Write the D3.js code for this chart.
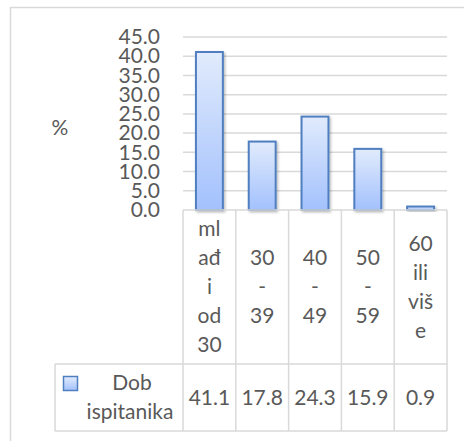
<!DOCTYPE html>
<html>
<head>
<meta charset="utf-8">
<script src="https://cdn.jsdelivr.net/npm/d3@7"></script>
<style>
  body { margin: 0; background: #fff; }
  text { font-family: Lato, "Open Sans", sans-serif; fill: #595959; }
</style>
</head>
<body>
<div id="chart"></div>
<script>
var categories = ["mlađi od 30", "30 - 39", "40 - 49", "50 - 59", "60 ili više"];
// wrapped lines as they appear in the data table header
var categoryLines = [["ml", "ađ", "i", "od", "30"], ["30", "-", "39"], ["40", "-", "49"], ["50", "-", "59"], ["60", "ili", "viš", "e"]];
var values = [41.1, 17.8, 24.3, 15.9, 0.9];
var seriesName = ["Dob", "ispitanika"];
var yTicks = [0, 5, 10, 15, 20, 25, 30, 35, 40, 45];

var W = 464, H = 441;
var margin = {top: 37, left: 183, right: 17, bottom: 231},
  width = W - margin.left - margin.right,
  height = H - margin.top - margin.bottom;

var svg = d3.select("#chart").append("svg")
  .attr("width", W).attr("height", H);

var defs = svg.append("defs");
var grad = defs.append("linearGradient").attr("id", "barGrad")
  .attr("x1", 0).attr("y1", 0).attr("x2", 0).attr("y2", 1);
grad.append("stop").attr("offset", "0%").attr("stop-color", "#e1ebfc");
grad.append("stop").attr("offset", "100%").attr("stop-color", "#a3c1fd");
var shadow = defs.append("filter").attr("id", "shadow")
  .attr("x", "-20%").attr("y", "-20%").attr("width", "150%").attr("height", "150%");
shadow.append("feDropShadow").attr("dx", 1.5).attr("dy", 1.5).attr("stdDeviation", 1.2)
  .attr("flood-color", "#000").attr("flood-opacity", 0.25);

// outer chart border
svg.append("path")
  .attr("d", "M10.5," + (H + 1) + "V7.5H" + (W + 1))
  .attr("fill", "none").attr("stroke", "#d9d9d9").attr("stroke-width", 1.5);

var g = svg.append("g").attr("transform", "translate(" + margin.left + "," + margin.top + ")");

var x = d3.scaleBand().domain(categories).range([0, width]).paddingInner(0).paddingOuter(0);
var y = d3.scaleLinear().domain([0, 45]).range([height, 0]);

// gridlines
g.selectAll(".grid").data(yTicks.slice(1)).enter().append("line")
  .attr("x1", 0).attr("x2", width)
  .attr("y1", function(d) { return y(d); }).attr("y2", function(d) { return y(d); })
  .attr("stroke", "#d9d9d9").attr("stroke-width", 1.5);

// y axis
var yAxis = d3.axisLeft(y).tickValues(yTicks).tickSize(0).tickPadding(23)
  .tickFormat(d3.format(".1f"));
var ya = g.append("g").call(yAxis);
ya.select(".domain").remove();
ya.selectAll("text").style("font-size", "21px").attr("fill", "#595959")
  .style("font-family", "Lato, sans-serif");

g.append("text").attr("x", 60 - margin.left).attr("y", 128 - margin.top)
  .attr("text-anchor", "middle").attr("dy", "0.35em")
  .style("font-size", "21px").text("%");

// bars
var bw = x.bandwidth() * 0.51;
g.selectAll(".bar").data(values).enter().append("rect")
  .attr("class", "bar")
  .attr("x", function(d, i) { return x(categories[i]) + (x.bandwidth() - bw) / 2; })
  .attr("y", function(d) { return y(d); })
  .attr("width", bw)
  .attr("height", function(d) { return y(0) - y(d); })
  .attr("fill", "url(#barGrad)")
  .attr("stroke", "#4f7fc0").attr("stroke-width", 2)
  .attr("filter", "url(#shadow)");

// data table
var tTop = height, tMid = 364 - margin.top, tBot = 431 - margin.top;
var legendLeft = 55 - margin.left;
var tbl = g.append("g").attr("fill", "none").attr("stroke", "#d9d9d9").attr("stroke-width", 1.5);
tbl.append("line").attr("x1", 0).attr("x2", width).attr("y1", tTop).attr("y2", tTop);
tbl.append("line").attr("x1", legendLeft).attr("x2", width).attr("y1", tMid).attr("y2", tMid);
tbl.append("line").attr("x1", legendLeft).attr("x2", width).attr("y1", tBot).attr("y2", tBot);
tbl.append("line").attr("x1", legendLeft).attr("x2", legendLeft).attr("y1", tMid).attr("y2", tBot);
tbl.selectAll(".v").data(d3.range(categories.length + 1)).enter().append("line")
  .attr("x1", function(i) { return i * x.bandwidth(); })
  .attr("x2", function(i) { return i * x.bandwidth(); })
  .attr("y1", tTop).attr("y2", tBot);

var lineH = 29, headMid = (tTop + tMid) / 2;
categoryLines.forEach(function(lines, i) {
  var cx = x(categories[i]) + x.bandwidth() / 2;
  var t = g.append("text").attr("text-anchor", "middle").style("font-size", "21px");
  lines.forEach(function(s, j) {
    t.append("tspan").attr("x", cx)
      .attr("y", headMid + (j - (lines.length - 1) / 2) * lineH)
      .attr("dy", "0.35em").text(s);
  });
});

var rowMid = (tMid + tBot) / 2;
g.selectAll(".val").data(values).enter().append("text")
  .attr("x", function(d, i) { return x(categories[i]) + x.bandwidth() / 2; })
  .attr("y", rowMid).attr("dy", "0.35em")
  .attr("text-anchor", "middle").style("font-size", "21px")
  .text(function(d) { return d3.format(".1f")(d); });

// legend key + series name
g.append("rect").attr("x", 63.5 - margin.left).attr("y", 376.5 - margin.top)
  .attr("width", 14).attr("height", 14)
  .attr("fill", "url(#barGrad)").attr("stroke", "#4f7fc0").attr("stroke-width", 1.5);
var st = g.append("text").attr("text-anchor", "middle").style("font-size", "21px");
seriesName.forEach(function(s, j) {
  st.append("tspan").attr("x", 130 - margin.left + (j === 0 ? 2 : 0))
    .attr("y", rowMid + (j - 0.5) * 29).attr("dy", "0.35em").text(s);
});
</script>
</body>
</html>
